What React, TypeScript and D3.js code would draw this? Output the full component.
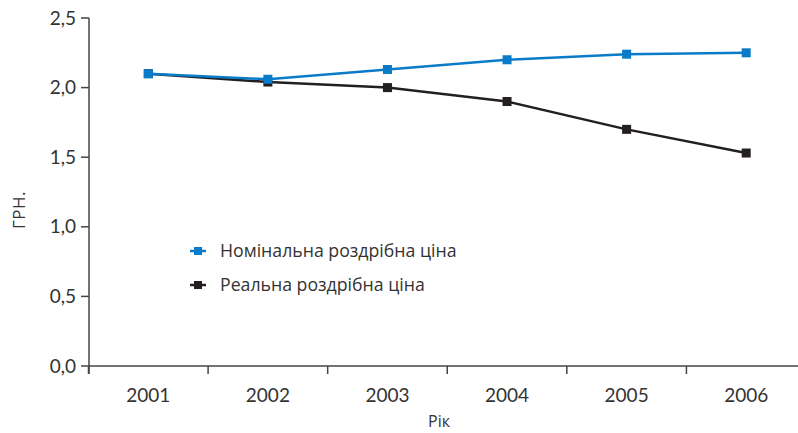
import React, { useEffect, useRef } from "react";
import * as d3 from "d3";

const years = ["2001", "2002", "2003", "2004", "2005", "2006"];
const nominal = [2.1, 2.06, 2.13, 2.2, 2.24, 2.25];
const real = [2.1, 2.04, 2.0, 1.9, 1.7, 1.53];
const yTicks = [0, 0.5, 1.0, 1.5, 2.0, 2.5];

const seriesNames = ["Номінальна роздрібна ціна", "Реальна роздрібна ціна"];
const seriesColors = ["#0a7bc8", "#231f20"];

const App = () => {
  const svgRef = useRef<SVGSVGElement>(null);

  useEffect(() => {
    const width = 798;
    const height = 433;
    const tickFont = "Lato, sans-serif";
    const font = "'Open Sans', sans-serif";
    const svg = d3.select(svgRef.current);
    svg.selectAll("*").remove();

    const x = d3.scaleBand().domain(years).range([88.5, 806]);
    const y = d3.scaleLinear().domain([0, 2.5]).range([366, 18]);

    const axisColor = "#444";

    // y axis
    const gy = svg.append("g").attr("transform", "translate(89,0)");
    gy.append("line")
      .attr("y1", y(2.5))
      .attr("y2", 374)
      .attr("stroke", axisColor)
      .attr("stroke-width", 1.5);
    gy.selectAll("line.tick")
      .data(yTicks)
      .join("line")
      .attr("class", "tick")
      .attr("x1", -8)
      .attr("x2", 0)
      .attr("y1", (d) => y(d))
      .attr("y2", (d) => y(d))
      .attr("stroke", axisColor)
      .attr("stroke-width", 1.5);
    gy.selectAll("text")
      .data(yTicks)
      .join("text")
      .attr("x", -13)
      .attr("y", (d) => y(d))
      .attr("dy", "0.35em")
      .attr("text-anchor", "end")
      .attr("font-family", tickFont)
      .attr("font-size", 19)
      .attr("fill", "#333")
      .text((d) => d3.format(".1f")(d).replace(".", ","));

    // x axis
    const gx = svg.append("g").attr("transform", `translate(0,${y(0)})`);
    gx.append("line")
      .attr("x1", 89)
      .attr("x2", width)
      .attr("stroke", axisColor)
      .attr("stroke-width", 1.5);
    gx.selectAll("line.tick")
      .data(years)
      .join("line")
      .attr("class", "tick")
      .attr("x1", (d) => x(d)!)
      .attr("x2", (d) => x(d)!)
      .attr("y1", 0)
      .attr("y2", 8)
      .attr("stroke", axisColor)
      .attr("stroke-width", 1.5);
    gx.selectAll("text")
      .data(years)
      .join("text")
      .attr("x", (d) => x(d)! + x.bandwidth() / 2)
      .attr("y", 36)
      .attr("text-anchor", "middle")
      .attr("font-family", tickFont)
      .attr("font-size", 19)
      .attr("fill", "#333")
      .text((d) => d);

    // axis titles
    svg
      .append("text")
      .attr("transform", `translate(25,210) rotate(-90)`)
      .attr("text-anchor", "middle")
      .attr("font-family", font)
      .attr("font-size", 17)
      .attr("letter-spacing", 0.5)
      .attr("fill", "#333")
      .text("ГРН.");
    svg
      .append("text")
      .attr("x", 439)
      .attr("y", 427)
      .attr("text-anchor", "middle")
      .attr("font-family", font)
      .attr("font-size", 16)
      .attr("fill", "#333")
      .text("Рік");

    const cx = (d: string) => x(d)! + x.bandwidth() / 2;
    const line = d3
      .line<number>()
      .x((_, i) => cx(years[i]))
      .y((v) => y(v));

    const data = [real, nominal];
    const colors = [seriesColors[1], seriesColors[0]];
    data.forEach((vals, k) => {
      svg
        .append("path")
        .attr("d", line(vals))
        .attr("fill", "none")
        .attr("stroke", colors[k])
        .attr("stroke-width", 2.5);
      svg
        .append("g")
        .selectAll("rect")
        .data(vals)
        .join("rect")
        .attr("x", (_, i) => cx(years[i]) - 4.5)
        .attr("y", (v) => y(v) - 4.5)
        .attr("width", 9)
        .attr("height", 9)
        .attr("fill", colors[k]);
    });

    // legend
    const lg = svg
      .append("g")
      .selectAll("g")
      .data(seriesNames)
      .join("g")
      .attr("transform", (_, i) => `translate(190,${251 + i * 34})`);
    lg.append("line")
      .attr("x1", 0)
      .attr("x2", 16)
      .attr("stroke", (_, i) => seriesColors[i])
      .attr("stroke-width", 2.5);
    lg.append("rect")
      .attr("x", 4)
      .attr("y", -4)
      .attr("width", 8)
      .attr("height", 8)
      .attr("fill", (_, i) => seriesColors[i]);
    lg.append("text")
      .attr("x", 30)
      .attr("dy", "0.35em")
      .attr("font-family", font)
      .attr("font-size", 17.7)
      .attr("fill", "#333")
      .text((d) => d);

    svg.attr("width", width).attr("height", height);
  }, []);

  return (
    <svg
      ref={svgRef}
      style={{ position: "absolute", left: 0, top: 0, display: "block" }}
    ></svg>
  );
};

export default App;
